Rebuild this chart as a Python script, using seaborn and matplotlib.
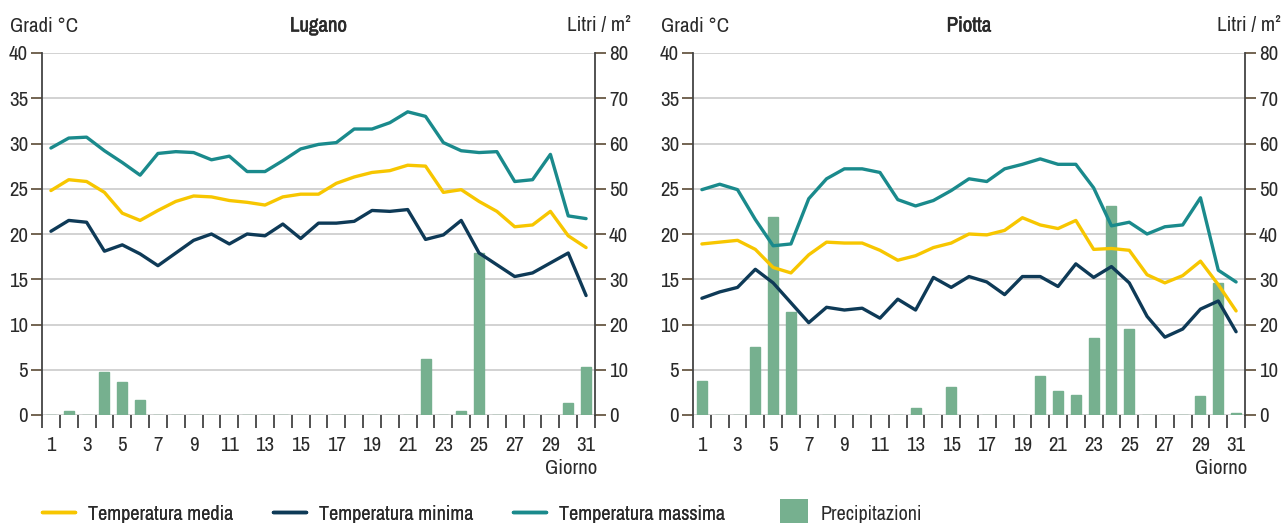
import numpy as np
import matplotlib
matplotlib.use('Agg')
import matplotlib.pyplot as plt
from matplotlib import font_manager as fm
from matplotlib import patheffects as pe
from matplotlib.lines import Line2D
from matplotlib.patches import Patch
import seaborn as sns

DAYS = list(range(1, 32))

LUGANO_MEDIA = [24.8, 26.0, 25.8, 24.6, 22.3, 21.5, 22.6, 23.6, 24.2, 24.1,
                23.7, 23.5, 23.2, 24.1, 24.4, 24.4, 25.6, 26.3, 26.8, 27.0,
                27.6, 27.5, 24.6, 24.9, 23.6, 22.5, 20.8, 21.0, 22.5, 19.8,
                18.5]
LUGANO_MIN = [20.3, 21.5, 21.3, 18.1, 18.8, 17.8, 16.5, 17.9, 19.3, 20.0,
              18.9, 20.0, 19.8, 21.1, 19.5, 21.2, 21.2, 21.4, 22.6, 22.5,
              22.7, 19.4, 19.9, 21.5, 17.9, 16.6, 15.3, 15.7, 16.8, 17.9,
              13.2]
LUGANO_MAX = [29.5, 30.6, 30.7, 29.2, 27.9, 26.5, 28.9, 29.1, 29.0, 28.2,
              28.6, 26.9, 26.9, 28.1, 29.4, 29.9, 30.1, 31.6, 31.6, 32.3,
              33.5, 33.0, 30.1, 29.2, 29.0, 29.1, 25.8, 26.0, 28.8, 22.0,
              21.7]
LUGANO_PREC = [0, 0.9, 0, 9.6, 7.3, 3.3, 0, 0, 0, 0,
               0, 0, 0, 0, 0, 0, 0, 0, 0, 0,
               0, 12.4, 0, 0.9, 35.9, 0, 0, 0, 0, 2.6,
               10.5]

PIOTTA_MEDIA = [18.9, 19.1, 19.3, 18.3, 16.3, 15.7, 17.7, 19.1, 19.0, 19.0,
                18.2, 17.1, 17.6, 18.5, 19.0, 20.0, 19.9, 20.4, 21.8, 21.0,
                20.6, 21.5, 18.3, 18.4, 18.2, 15.5, 14.6, 15.4, 17.0, 14.4,
                11.5]
PIOTTA_MIN = [12.9, 13.6, 14.1, 16.1, 14.6, 12.4, 10.2, 11.9, 11.6, 11.8,
              10.7, 12.8, 11.6, 15.2, 14.1, 15.3, 14.7, 13.3, 15.3, 15.3,
              14.2, 16.7, 15.2, 16.4, 14.6, 10.9, 8.6, 9.5, 11.7, 12.6,
              9.2]
PIOTTA_MAX = [24.9, 25.5, 24.9, 21.6, 18.7, 18.9, 23.9, 26.1, 27.2, 27.2,
              26.8, 23.8, 23.1, 23.7, 24.8, 26.1, 25.8, 27.2, 27.7, 28.3,
              27.7, 27.7, 25.1, 20.9, 21.3, 20.0, 20.8, 21.0, 24.0, 16.0,
              14.7]
PIOTTA_PREC = [7.5, 0, 0, 15.0, 43.8, 22.7, 0, 0, 0, 0,
               0, 0, 1.5, 0, 6.2, 0, 0, 0, 0, 8.6,
               5.3, 4.4, 17.0, 46.2, 18.9, 0, 0, 0, 4.3, 29.1,
               0.4]

YELLOW = '#f7c600'
NAVY = '#0e3a57'
TEAL = '#1a8a8c'
GREEN = '#76b08f'
TEXT = '#2a2a2a'
TICKC = '#5b4a35'
FS = 15


def pick_font():
    # the reference uses a condensed face; take the narrowest one installed
    fonts = fm.fontManager.ttflist
    names = {f.name for f in fonts}
    if 'Liberation Sans Narrow' in names:
        return 'Liberation Sans Narrow', 'normal'
    for f in fonts:
        if 'Condensed' in f.name or 'Narrow' in f.name:
            return f.name, 'normal'
    for f in fonts:
        if f.name == 'DejaVu Sans' and f.stretch in ('condensed', 'semi-condensed', 300):
            return 'DejaVu Sans', 'condensed'
    return 'Roboto', 'normal'


FAMILY, STRETCH = pick_font()

sns.set_style('white')
plt.rcParams['font.family'] = [FAMILY, 'DejaVu Sans']
plt.rcParams['font.stretch'] = STRETCH
plt.rcParams['font.size'] = FS
plt.rcParams['text.color'] = TEXT

W, H = 1283, 523
fig = plt.figure(figsize=(W / 100, H / 100), dpi=100)

panels = [
    ('Lugano', 42, 595, LUGANO_MEDIA, LUGANO_MIN, LUGANO_MAX, LUGANO_PREC),
    ('Piotta', 693, 1245, PIOTTA_MEDIA, PIOTTA_MIN, PIOTTA_MAX, PIOTTA_PREC),
]
top_px, bot_px = 53, 415

for name, x0, x1, tmed, tmin, tmax, prec in panels:
    ax = fig.add_axes([x0 / W, 1 - bot_px / H, (x1 - x0) / W, (bot_px - top_px) / H])
    axb = ax.twinx()
    # lines above the bars, grid below the bars
    ax.set_zorder(axb.get_zorder() + 1)
    ax.patch.set_visible(False)

    sns.barplot(x=DAYS, y=prec, ax=axb, native_scale=True, width=0.56,
                color=GREEN, saturation=1, errorbar=None,
                edgecolor=GREEN, linewidth=1, zorder=2)
    axb.set_ylim(0, 80)
    axb.set_yticks(range(0, 81, 10))
    axb.yaxis.grid(True, color='#cfcfcf', linewidth=1.3, zorder=0)
    axb.set_axisbelow(True)
    axb.set_ylabel('')

    sns.lineplot(x=DAYS, y=tmed, ax=ax, color=YELLOW, linewidth=2.4)
    sns.lineplot(x=DAYS, y=tmin, ax=ax, color=NAVY, linewidth=2.4)
    sns.lineplot(x=DAYS, y=tmax, ax=ax, color=TEAL, linewidth=2.4)
    ax.set_ylim(0, 40)
    ax.set_yticks(range(0, 41, 5))
    ax.set_xlim(0.5, 31.5)
    ax.set_xlabel('')
    ax.set_ylabel('')
    ax.grid(False)

    # day labels on odd days, tick marks between days
    ax.set_xticks(range(1, 32, 2))
    ax.set_xticks(np.arange(0.5, 32, 1), minor=True)
    ax.tick_params(axis='x', which='major', bottom=True, length=0, pad=15,
                   labelsize=FS, labelcolor=TEXT)
    ax.tick_params(axis='x', which='minor', bottom=True, length=9, width=1.2,
                   color='#333333', direction='out')
    ax.tick_params(axis='y', left=True, length=8, width=1.2, color=TICKC,
                   labelsize=FS, labelcolor=TEXT, pad=2)
    axb.tick_params(axis='y', right=True, length=8, width=1.2, color=TICKC,
                    labelsize=FS, labelcolor=TEXT, pad=2)

    for s in ['top', 'right', 'bottom']:
        ax.spines[s].set_visible(False)
    for s in ['top', 'left', 'bottom']:
        axb.spines[s].set_visible(False)
    ax.spines['left'].set_color('#444444')
    ax.spines['left'].set_linewidth(1.3)
    axb.spines['right'].set_color('#444444')
    axb.spines['right'].set_linewidth(1.3)

    fig.text((x0 + x1) / 2 / W, 1 - 26 / H, name, ha='center', va='center',
             fontsize=FS, fontweight='bold',
             path_effects=[pe.withStroke(linewidth=0.4, foreground=TEXT)])
    fig.text((x0 - 32) / W, 1 - 26 / H, 'Gradi °C', ha='left', va='center',
             fontsize=FS)
    fig.text((x1 + 36) / W, 1 - 26 / H, 'Litri / m²', ha='right', va='center',
             fontsize=FS)
    fig.text((x1 + 2) / W, 1 - 468 / H, 'Giorno', ha='right', va='center',
             fontsize=FS)

line_handles = [
    Line2D([], [], color=YELLOW, linewidth=2.5),
    Line2D([], [], color=NAVY, linewidth=2.5),
    Line2D([], [], color=TEAL, linewidth=2.5),
]
line_labels = ['Temperatura media', 'Temperatura minima', 'Temperatura massima']
leg = fig.legend(line_handles, line_labels, loc='center left',
                 bbox_to_anchor=(42 / W, 1 - 514 / H), ncol=3, frameon=False,
                 fontsize=14.5, handlelength=1.65, handletextpad=0.65,
                 columnspacing=1.95, borderaxespad=0, borderpad=0)
fig.add_artist(leg)
fig.legend([Patch(facecolor=GREEN, edgecolor='none')], ['Precipitazioni'],
           loc='center left', bbox_to_anchor=(780 / W, 1 - 514 / H),
           frameon=False, fontsize=14.5, handlelength=1.4, handleheight=1.9,
           handletextpad=0.6, borderaxespad=0, borderpad=0)

fig.savefig('out.png', dpi=100)
